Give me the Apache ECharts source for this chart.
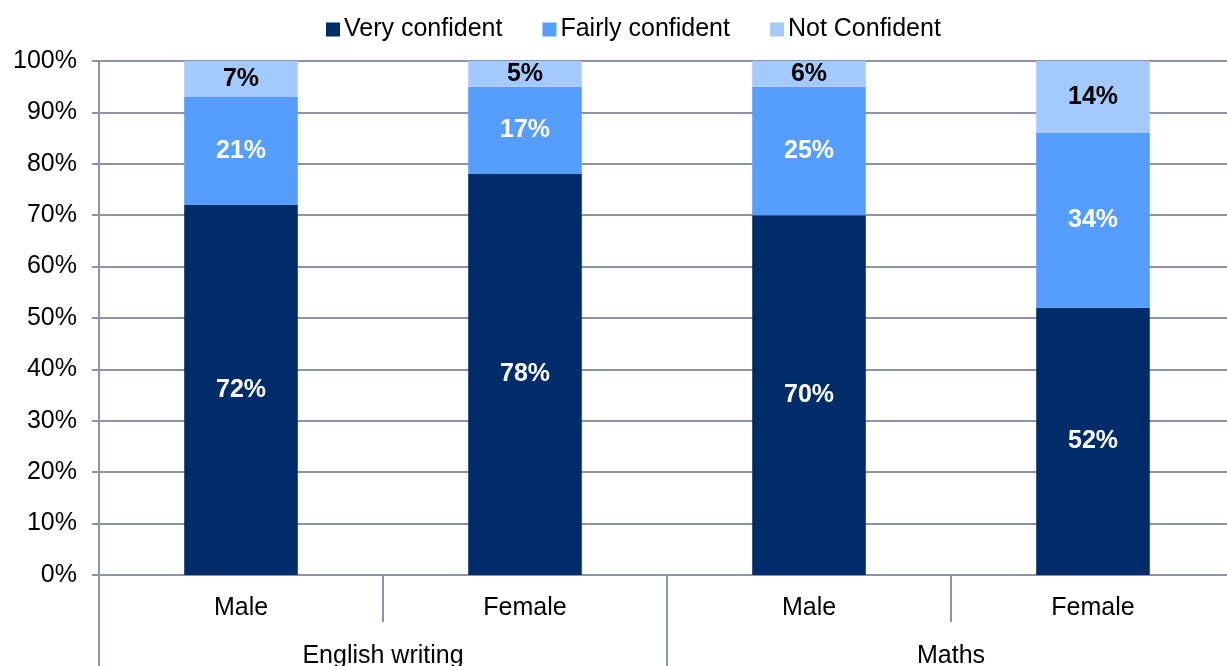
<!DOCTYPE html>
<html>
<head>
<meta charset="utf-8">
<script src="https://cdn.jsdelivr.net/npm/echarts@6/dist/echarts.min.js"></script>
<style>
  html, body { margin: 0; padding: 0; background: #fff; }
  #chart { width: 1227px; height: 666px; }
</style>
</head>
<body>
<div id="chart"></div>
<script>
// Confidence by subject and gender (percent of respondents)
const genders = ['Male', 'Female', 'Male', 'Female'];
const subjects = ['English writing', 'Maths'];
const veryConfident = [72, 78, 70, 52];
const fairlyConfident = [21, 17, 25, 34];
const notConfident = [7, 5, 6, 14];
const yTicks = [0, 10, 20, 30, 40, 50, 60, 70, 80, 90, 100];

const FONT = '"Liberation Sans", Arial, sans-serif';
const FONT_SIZE = 25;
const GRID_COLOR = '#8f93a8';

function barSeries(name, values, color, labelColor) {
  return {
    name: name,
    type: 'bar',
    stack: 'total',
    data: values,
    barWidth: '40%',
    itemStyle: { color: color },
    label: {
      show: true,
      position: 'inside',
      formatter: p => p.value + '%',
      color: labelColor,
      fontFamily: FONT,
      fontWeight: 'bold',
      fontSize: FONT_SIZE
    }
  };
}

const chart = echarts.init(document.getElementById('chart'), null, { renderer: 'canvas' });
chart.setOption({
  animation: false,
  backgroundColor: '#ffffff',
  textStyle: { fontFamily: FONT },
  legend: {
    top: 12,
    left: 321,
    icon: 'rect',
    itemWidth: 14,
    itemHeight: 14,
    itemGap: 40,
    textStyle: { fontFamily: FONT, fontSize: FONT_SIZE, color: '#000', padding: [0, 0, 0, -1] },
    data: ['Very confident', 'Fairly confident', 'Not Confident']
  },
  // plot area runs slightly past the right edge of the canvas
  grid: {
    left: 99, right: -8, top: 61, bottom: 91,
    containLabel: false,
    outerBoundsMode: 'none'
  },
  xAxis: [
    {
      type: 'category',
      data: genders,
      position: 'bottom',
      axisLine: { show: true, lineStyle: { color: GRID_COLOR, width: 2 } },
      axisTick: { show: true, length: 47, interval: 0, lineStyle: { color: GRID_COLOR, width: 2 } },
      axisLabel: { margin: 21, fontFamily: FONT, fontSize: FONT_SIZE, color: '#000', interval: 0 }
    },
    {
      type: 'category',
      data: subjects,
      position: 'bottom',
      axisLine: { show: false },
      axisTick: { show: true, length: 100, interval: 0, lineStyle: { color: GRID_COLOR, width: 2 } },
      axisLabel: { margin: 69, fontFamily: FONT, fontSize: FONT_SIZE, color: '#000', interval: 0 }
    }
  ],
  yAxis: {
    type: 'value',
    min: yTicks[0],
    max: yTicks[yTicks.length - 1],
    interval: 10,
    axisLine: { show: true, lineStyle: { color: GRID_COLOR, width: 2 } },
    axisTick: { show: true, length: 7, lineStyle: { color: GRID_COLOR, width: 2 } },
    axisLabel: { margin: 22, fontFamily: FONT, fontSize: FONT_SIZE, color: '#000', formatter: v => v + '%' },
    splitLine: { show: true, lineStyle: { color: GRID_COLOR, width: 2 } }
  },
  series: [
    barSeries('Very confident', veryConfident, '#002d69', '#ffffff'),
    barSeries('Fairly confident', fairlyConfident, '#559dff', '#ffffff'),
    barSeries('Not Confident', notConfident, '#a4c9fd', '#000000')
  ]
});
</script>
</body>
</html>
